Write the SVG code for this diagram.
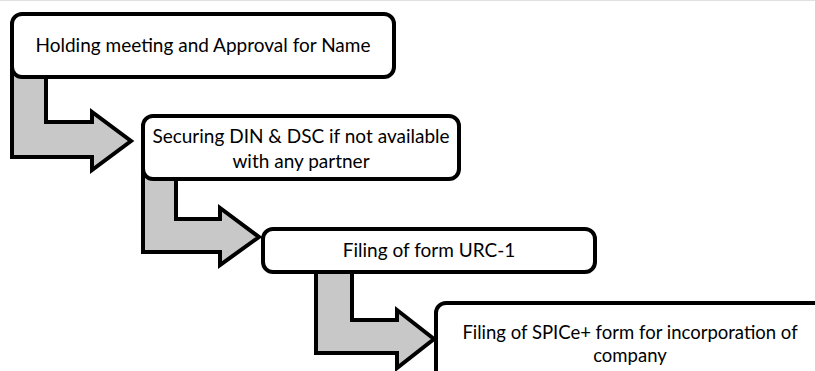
<svg xmlns="http://www.w3.org/2000/svg" width="815" height="371" viewBox="0 0 815 371">
<style>
.box{fill:#ffffff;stroke:#000000;stroke-width:4}
.arr{fill:#c8c8c8;stroke:#000000;stroke-width:4;stroke-linejoin:miter}
.t{font-family:Lato,"Open Sans",sans-serif;font-size:19px;fill:#000000;text-anchor:middle}
.s{font-size:18.5px}
</style>
<rect x="0" y="0" width="815" height="371" fill="#ffffff"/>
<line x1="0" y1="0.5" x2="815" y2="0.5" stroke="#e0e0e0" stroke-width="1"/>
<g id="connectors">
<path class="arr" d="M12,70 L12,157 L92,157 L92,170 L131,141 L92,112 L92,122 L46,122 L46,70 Z"/>
<path class="arr" d="M143,172 L143,252 L220,252 L220,265 L259,237 L220,208 L220,219 L176,219 L176,172 Z"/>
<path class="arr" d="M316,265 L316,353 L397,353 L397,368 L434,339 L397,310 L397,320 L352,320 L352,265 Z"/>
</g>
<g id="node1">
<rect class="box" x="12" y="14" width="382" height="63" rx="10"/>
<text class="t" x="203" y="52">Holding meeting and Approval for Name</text>
</g>
<g id="node2">
<rect class="box" x="143" y="116" width="316" height="63" rx="10"/>
<text class="t" x="301" y="143">Securing DIN &amp; DSC if not available</text>
<text class="t" x="301" y="168">with any partner</text>
</g>
<g id="node3">
<rect class="box" x="263" y="229" width="332" height="43" rx="10"/>
<text class="t" x="429" y="257">Filing of form URC-1</text>
</g>
<g id="node4">
<rect class="box" x="436" y="303" width="388" height="90" rx="10"/>
<text class="t s" x="630" y="339">Filing of SPICe+ form for incorporation of</text>
<text class="t s" x="630" y="362">company</text>
</g>
</svg>
